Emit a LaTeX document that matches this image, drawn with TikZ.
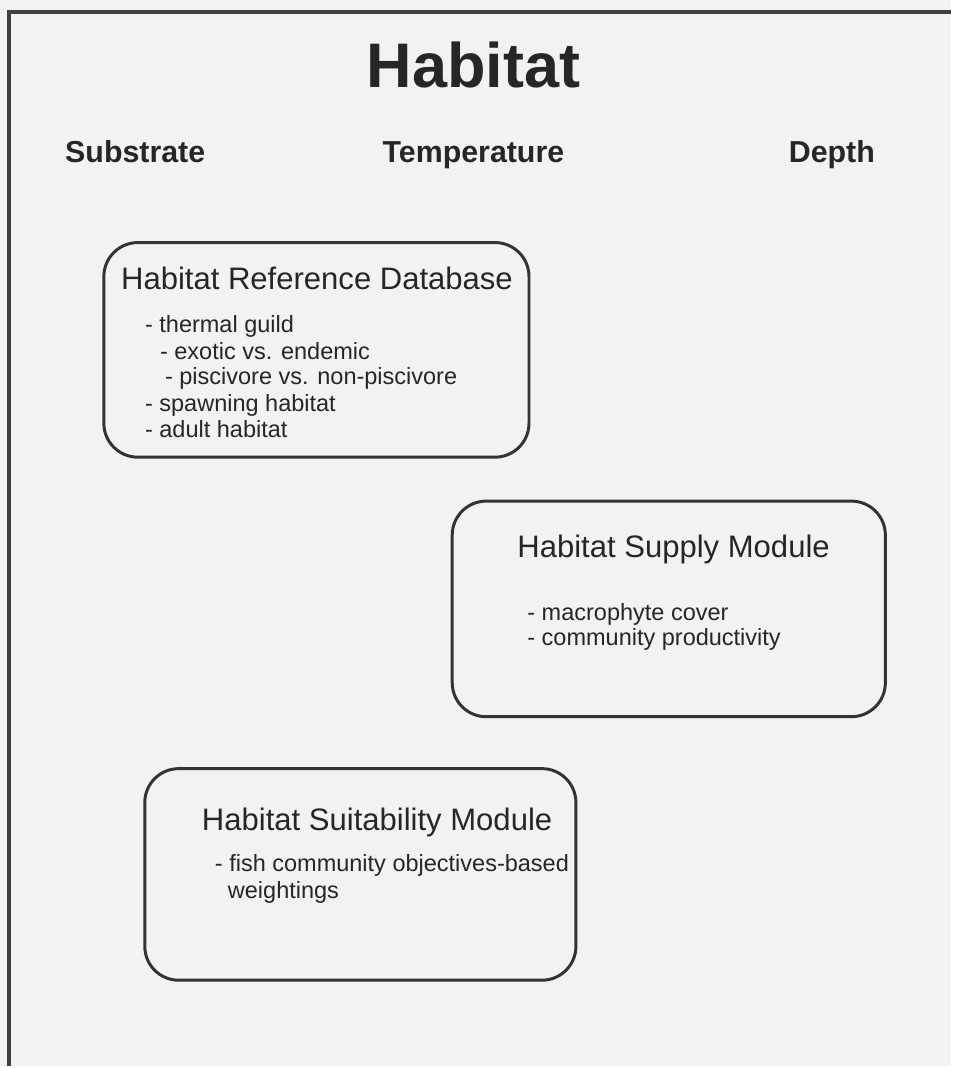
\documentclass[tikz,border=0pt]{standalone}
\usepackage{fontspec}
\setmainfont{Liberation Sans}
\begin{document}
\begin{tikzpicture}[x=0.02cm,y=-0.02cm,
	modbox/.style={rectangle, draw=black!80, line width=1.7pt, rounded corners=0.68cm, inner sep=0pt},
	boxtitle/.style={anchor=base west, inner sep=0pt, text=black!85, font=\fontsize{17.7}{20}\selectfont},
	item/.style={anchor=base west, inner sep=0pt, text=black!85, font=\fontsize{13.4}{15}\selectfont},
	factor/.style={anchor=base west, inner sep=0pt, text=black!85, font=\fontsize{17.3}{20}\selectfont\bfseries}]
			% page and frame
			\fill[black!5] (0,0) rectangle (953,1068);
			\draw[black!75, line width=2.2pt] (953,12) -- (9,12) -- (9,1068);
			
			\node[anchor=base, inner sep=0pt, text=black!85, font=\fontsize{35.9}{40}\selectfont\bfseries] (title) at (474.5,88) {Habitat};
			\node[factor] (sub) at (65,163) {Substrate};
			\node[factor] (temp) at (383,163) {Temperature};
			\node[factor] (depth) at (790,163) {Depth};
			
			% reference database
			\node[modbox, minimum width=8.52cm, minimum height=4.3cm] (db) at (317,350.5) {};
			\node[boxtitle] (dbtitle) at (121,290) {Habitat Reference Database};
			\node[item] (db1) at (145,333) {- thermal guild};
			\node[item] (db2) at (160,360) {- exotic vs. endemic};
			\node[item] (db3) at (165,385) {- piscivore vs. non-piscivore};
			\node[item] (db4) at (145,412) {- spawning habitat};
			\node[item] (db5) at (145,438) {- adult habitat};
			
			% supply module
			\node[modbox, minimum width=8.68cm, minimum height=4.32cm] (supply) at (670,610) {};
			\node[boxtitle] (supplytitle) at (518,558) {Habitat Supply Module};
			\node[item] (supply1) at (528,622) {- macrophyte cover};
			\node[item] (supply2) at (528,647) {- community productivity};
			
			% suitability module
			\node[modbox, minimum width=8.64cm, minimum height=4.24cm] (suit) at (361,876) {};
			\node[boxtitle] (suittitle) at (202,832) {Habitat Suitability Module};
			\node[item] (suit1) at (215,873) {- fish community objectives-based};
			\node[item] (suit2) at (228,900) {weightings};
\end{tikzpicture}
\end{document}
